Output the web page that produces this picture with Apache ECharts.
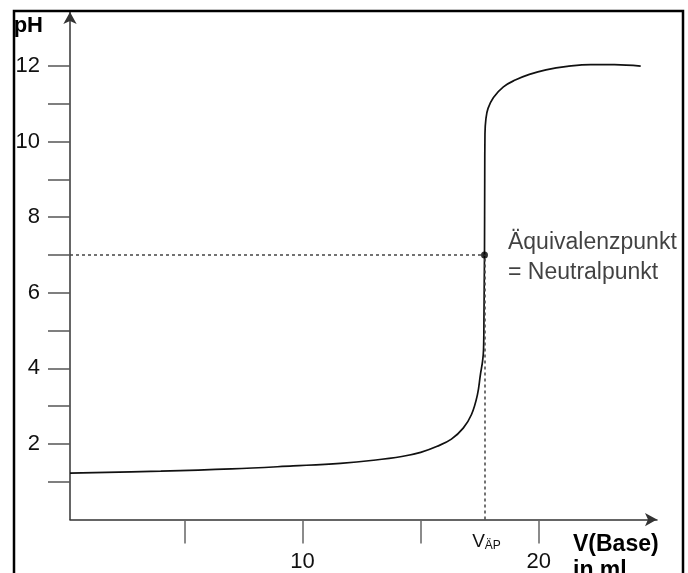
<!DOCTYPE html>
<html>
<head>
<meta charset="utf-8">
<script src="https://cdn.jsdelivr.net/npm/echarts@6/dist/echarts.min.js"></script>
<style>
html,body{margin:0;padding:0;background:#fff;}
#chart{width:688px;height:573px;}
</style>
</head>
<body>
<div id="chart"></div>
<script>
// Volume of base (ml) and pH values
const volume = [0.16, 4.0, 7.0, 9.6, 11.6, 13.0, 14.2, 15.0, 15.7, 16.3, 16.8, 17.15, 17.4, 17.53, 17.62, 17.66, 17.68, 17.69, 17.7, 17.71, 17.72, 17.76, 17.85, 18.08, 18.5, 19.0, 19.6, 20.3, 21.2, 22.2, 23.2, 24.31];
const pH     = [1.23, 1.28, 1.34, 1.42, 1.49, 1.57, 1.67, 1.78, 1.94, 2.13, 2.42, 2.78, 3.3, 3.85, 4.2, 4.5, 5.5, 6.3, 7.0, 9.0, 10.2, 10.6, 10.88, 11.17, 11.45, 11.63, 11.78, 11.9, 11.99, 12.04, 12.04, 12.0];
// Equivalence point
const equivVolume = 17.7;
const equivPH = 7;
// Axis ticks and labels
const volTicks = [5, 10, 15, 20];
const volLabels = [10, 20];
const pHTicks = [1, 2, 3, 4, 5, 6, 7, 8, 9, 10, 11, 12];
const pHLabels = [2, 4, 6, 8, 10, 12];
const volMin = 0.16, volMax = 25.0;
const pHMin = 0, pHMax = 13.43;
const annotationText = 'Äquivalenzpunkt\n= Neutralpunkt';
const xName = 'V(Base)\nin ml';
const yName = 'pH';

const FONT = '"Liberation Sans", Arial, sans-serif';
const curve = volume.map((v, i) => [v, pH[i]]);

const chart = echarts.init(document.getElementById('chart'), null, {renderer: 'canvas'});
chart.setOption({
  backgroundColor: '#fff',
  animation: false,
  grid: {left: 70, right: 31, top: 12, bottom: 53.4, containLabel: false, outerBoundsMode: 'none'},
  xAxis: {
    type: 'value', min: volMin, max: volMax,
    splitLine: {show: false},
    axisLine: {show: true, onZero: false, symbol: ['none', 'arrow'], symbolSize: [10, 12],
      lineStyle: {color: '#333', width: 1.5}},
    axisTick: {show: true, inside: false, length: 24, customValues: volTicks,
      lineStyle: {color: '#666', width: 1.5}},
    axisLabel: {show: true, customValues: volLabels, margin: 31, fontSize: 22,
      fontFamily: FONT, color: '#111'},
    name: xName, nameLocation: 'end', nameGap: -84,
    nameTextStyle: {fontFamily: FONT, fontSize: 23, fontWeight: 'bold', color: '#000',
      align: 'left', verticalAlign: 'top', lineHeight: 26, padding: [12, 0, 0, 0]}
  },
  yAxis: {
    type: 'value', min: pHMin, max: pHMax,
    splitLine: {show: false},
    axisLine: {show: true, onZero: false, symbol: ['none', 'arrow'], symbolSize: [10, 12],
      lineStyle: {color: '#333', width: 1.5}},
    axisTick: {show: true, inside: false, length: 22, customValues: pHTicks,
      lineStyle: {color: '#555', width: 1.5}},
    axisLabel: {show: true, customValues: pHLabels, margin: 30, fontSize: 22,
      fontFamily: FONT, color: '#111'},
    name: yName, nameLocation: 'end', nameGap: -3,
    nameTextStyle: {fontFamily: FONT, fontSize: 22, fontWeight: 'bold', color: '#000',
      align: 'right', verticalAlign: 'top', padding: [0, 27, 0, 0]}
  },
  series: [
    {
      type: 'line', data: curve, symbol: 'none', smooth: 0.4,
      lineStyle: {color: '#111', width: 1.7}, z: 3,
      markLine: {
        silent: true, symbol: ['none', 'none'],
        lineStyle: {color: '#444', type: [3, 3], width: 1.5},
        label: {show: false},
        data: [
          [{coord: [volMin, equivPH]}, {coord: [equivVolume, equivPH]}],
          [{coord: [equivVolume, pHMin],
            label: {show: true, position: 'start', distance: 12,
              formatter: '{v|V}{s|ÄP}',
              rich: {
                v: {fontFamily: FONT, fontSize: 19, color: '#111', padding: [0, 0, 0, 4]},
                s: {fontFamily: FONT, fontSize: 12, color: '#111', padding: [8, 0, 0, 0]}
              }}},
           {coord: [equivVolume, equivPH]}]
        ]
      }
    },
    {
      type: 'scatter', data: [[equivVolume, equivPH]], symbol: 'circle', symbolSize: 7,
      itemStyle: {color: '#000'}, z: 4,
      label: {show: true, position: 'right', distance: 20, offset: [0, 3],
        formatter: annotationText,
        fontFamily: FONT, fontSize: 23, lineHeight: 30, color: '#111'}
    }
  ],
  graphic: [
    {type: 'rect', shape: {x: 14, y: 11, width: 669, height: 620}, z: 100,
      style: {fill: 'none', stroke: '#000', lineWidth: 2.5}}
  ]
});
</script>
</body>
</html>
